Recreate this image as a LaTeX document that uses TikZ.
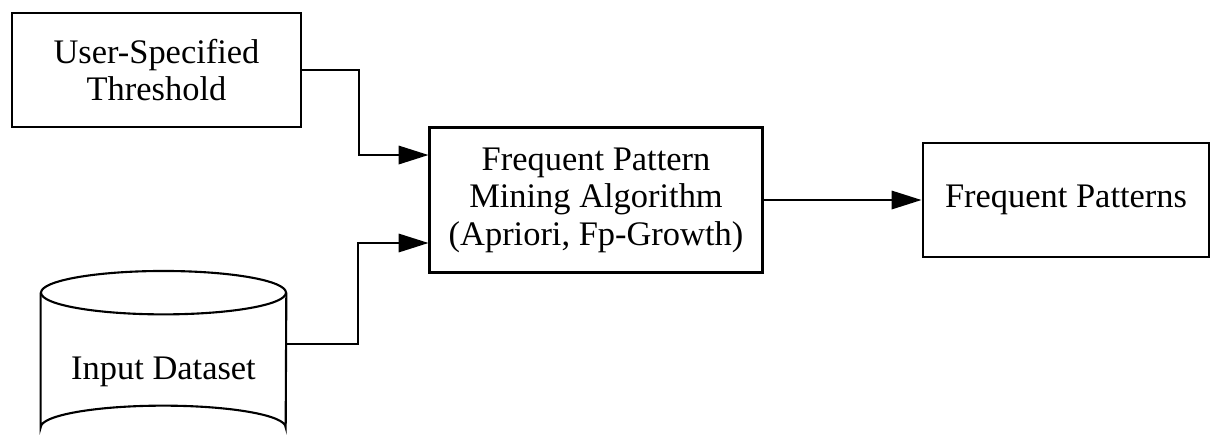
\documentclass[tikz,border=0pt]{standalone}
\usepackage{fontspec}
\setmainfont{Liberation Serif}
\usepackage{tikz}
\usetikzlibrary{arrows.meta, positioning, calc}
\tikzstyle{process} = [rectangle, draw=black, line width=1.2pt, fill=white, text centered, align=center, inner sep=0pt]
\tikzstyle{store} = [rectangle, draw=none, minimum width=4.9cm, minimum height=2.68cm, inner sep=0pt]
\tikzstyle{arrow} = [line width=1.1pt, -{Triangle[length=17pt, width=10.5pt]}]

\begin{document}
\begin{tikzpicture}[x=0.02cm, y=-0.02cm, font=\fontsize{19.6pt}{21.3pt}\selectfont]
    \useasboundingbox (0,0) rectangle (1210,441);

    % Inputs
    \node[process, minimum width=5.78cm, minimum height=2.28cm] (threshold) at (156.5,70) {User-Specified\\Threshold};
    \node[store] (data) at (163.5,360) {};

    % Cylinder around the dataset
    \draw[line width=1.2pt, fill=white] (data.north west) -- (data.south west)
        arc[start angle=180, end angle=360, x radius=122.5, y radius=21.7] -- (data.north east);
    \draw[line width=1.2pt, fill=white] (data.north) ellipse[x radius=122.5, y radius=21.7];
    \node (datalabel) at ($(data.center)+(0,12)$) {Input Dataset};

    % Algorithm and output
    \node[process, minimum width=6.66cm, minimum height=2.9cm] (algo) at (596,200) {Frequent Pattern\\Mining Algorithm\\(Apriori, Fp-Growth)};
    \node[process, minimum width=5.74cm, minimum height=2.28cm, right=3.16cm of algo] (patterns) {Frequent Patterns};

    % Connections
    \draw[arrow] (threshold.east) -- ++(57,0) |- ([yshift=0.9cm]algo.west);
    \draw[arrow] ([yshift=0.32cm]data.east) -- ++(72,0) |- ([yshift=-0.86cm]algo.west);
    \draw[arrow] (algo) -- (patterns);

\end{tikzpicture}
\end{document}
